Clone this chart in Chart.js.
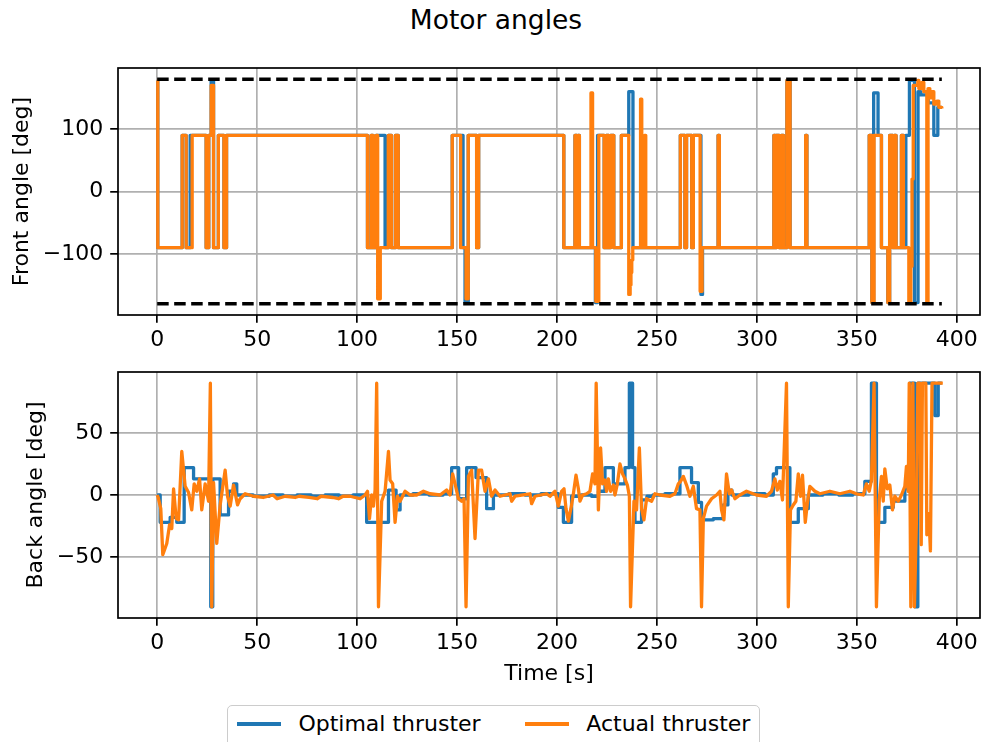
<!DOCTYPE html>
<html>
<head>
<meta charset="utf-8">
<title>Motor angles</title>
<script src="https://cdn.jsdelivr.net/npm/chart.js@4.4.1/dist/chart.umd.min.js"></script>
<style>
  body { margin: 0; background: #fff; font-family: 'DejaVu Sans', sans-serif; }
  #fig { position: relative; width: 982px; height: 742px; overflow: hidden; background: #fff; }
  #title { position: absolute; top: 5px; left: 0; width: 992px; text-align: center; font-size: 26.5px; line-height: 30px; color: #000; }
  canvas { position: absolute; left: 0; }
  #legend {
    position: absolute; left: 227px; top: 705px;
    display: inline-flex; align-items: center;
    padding: 7px 8.8px 20px 8.8px;
    border: 1.6px solid #cccccc; border-radius: 5px;
    font-size: 22px; line-height: 22px; color: #000; background: rgba(255,255,255,0.8);
  }
  #legend .item { display: inline-flex; align-items: center; }
  #legend .item + .item { margin-left: 44px; }
  #legend .swatch { width: 44px; height: 3.3px; margin-right: 17.6px; }
</style>
</head>
<body>
<div id="fig">
  <div id="title">Motor angles</div>
  <canvas id="front" width="982" height="350" style="top:0"></canvas>
  <canvas id="back" width="982" height="350" style="top:350px"></canvas>
  <div id="legend"></div>
</div>

<script>
// ---- data (time in s, angles in deg) ----

const timeTicks = [0, 50, 100, 150, 200, 250, 300, 350, 400];
const frontTicks = [-100, 0, 100];
const backTicks = [-50, 0, 50];

// angle limits drawn as dashed lines on the front plot
const limitTime = [0, 392.5];
const upperLimit = [180, 180];
const lowerLimit = [-180, -180];

// front motor: change points (value holds until the next time)
const frontOptimalTime = [
  0, 0.3, 12.5, 14.5, 16.5, 24.5, 25.8, 27.0, 28.2, 30.6,
  33.4, 34.7, 105.2, 107.0, 108.0, 109.5, 114.0, 115.6, 117.2, 119.2,
  120.6, 147.6, 153.0, 154.0, 155.6, 159.8, 160.8, 203.4, 209.0, 210.0,
  210.6, 211.2, 219.2, 220.3, 223.6, 224.7, 225.9, 226.8, 228.4, 232.2,
  235.9, 238.0, 261.7, 264.0, 264.8, 267.4, 268.2, 272.0, 272.8, 280.6,
  281.2, 308.5, 309.2, 309.7, 311.2, 312.3, 313.3, 315.0, 316.6, 324.4,
  325.0, 356.2, 357.5, 358.4, 360.6, 362.3, 365.5, 366.4, 368.0, 368.8,
  369.6, 372.3, 373.3, 374.5, 376.3, 378.8, 380.6, 382.0, 385.7, 388.5,
  390.5, 392.5
];
const frontOptimal = [
  178, -90, 90, -90, 90, -90, 90, 178, -90, 90,
  -90, 90, -90, 90, -90, 90, -90, 90, -90, 90,
  -90, 90, -90, -178, 90, -90, 90, -90, 90, -90,
  90, -90, -178, 90, -90, 90, -90, 90, -90, 90,
  160, -90, 90, -90, 90, -90, 90, -165, -90, 90,
  -90, 90, -90, 90, -90, 90, -90, 178, -90, 90,
  -90, 90, -178, 158, 90, -90, -178, 90, -90, 90,
  -90, 90, -90, 90, 178, -178, 160, 155, 142, 90,
  135, 135
];

const frontActualTime = [
  0, 0.3, 12.5, 14.5, 17.5, 24.5, 25.8, 27.0, 28.2, 30.6,
  33.4, 34.7, 105.2, 107.0, 108.0, 109.5, 110.3, 111.6, 115.6, 117.2,
  119.2, 120.6, 147.6, 151.8, 154.5, 155.6, 159.8, 160.8, 203.4, 209.0,
  210.0, 210.6, 211.2, 217.0, 217.8, 219.4, 220.9, 223.6, 224.7, 225.9,
  226.8, 228.4, 232.2, 235.9, 236.6, 237.0, 237.4, 237.9, 241.8, 242.4,
  243.8, 244.4, 261.7, 264.0, 264.8, 267.4, 268.2, 271.6, 272.6, 280.6,
  281.2, 308.5, 309.2, 309.7, 311.2, 312.3, 313.3, 315.0, 316.6, 324.4,
  325.0, 356.2, 357.5, 358.6, 362.3, 365.5, 366.4, 368.0, 368.8, 369.6,
  372.3, 373.3, 376.0, 377.0, 377.6, 378.2, 380.5, 381.0, 382.5, 383.5,
  385.0, 385.6, 386.5, 387.5, 388.5, 390.0, 391.0, 392.5
];
const frontActual = [
  178, -90, 90, -90, 90, -90, 90, 170, -90, 90,
  -90, 90, -90, 90, -90, 90, -172, -90, 90, -90,
  90, -90, 90, -90, -172, 90, -90, 90, -90, 90,
  -90, 90, -90, 158, -90, -176, 90, -90, 90, -90,
  90, -90, 90, -165, -150, -130, -110, -90, 148, -90,
  90, -90, 90, -90, 90, -90, 90, -160, -90, 90,
  -90, 90, -90, 90, -90, 90, -90, 178, -90, 90,
  -90, 90, -178, 90, -90, -178, 90, -90, 90, -90,
  90, -90, -178, -120, 20, 170, 178, 165, 175, 160,
  -178, 165, 150, 160, 140, 145, 135, 133
];

// back motor
const backOptimalTime = [
  0, 1.5, 6.5, 9.8, 13.5, 18.2, 26.8, 27.8, 31.5, 35.7,
  38.2, 39.8, 48, 56, 63, 70, 77, 84, 91, 98,
  104.8, 115.7, 119.5, 121.5, 128, 136, 143, 147.3, 150.8, 154.8,
  159.5, 164.8, 168.2, 176, 184, 192, 200.7, 203.2, 207.3, 212,
  217.3, 220.7, 224.0, 228.2, 234.0, 236.2, 237.8, 239.0, 242.3, 245,
  248, 254, 261.5, 267.3, 270.7, 272.3, 278.2, 283.2, 285.5, 287.5,
  296, 304, 308.2, 309.8, 316.5, 320.7, 325.7, 333, 341, 348,
  354.0, 357.3, 359.8, 364.0, 368.2, 374.0, 376.5, 379.0, 380.5, 389.0,
  390.7, 392.5
];
const backOptimal = [
  0, -22, -18, -22, 22, 13, -90, 13, -16, 3,
  9, 0, -1, 0, -1, 0, -1, 0, -1, 0,
  -22, 4, -12, 0, 1, 0, 1, 22, -3, 22,
  14, -11, 0, 1, 0, 1, -10, -22, -1, 0,
  -1, 3, 22, 9, 22, 90, 22, -22, -4, -1,
  0, 1, 22, 10, -6, -20, -19, -8, 4, 0,
  1, 0, 17, 22, -22, -11, 0, 1, 0, 1,
  11, 90, -22, -10, -5, 5, 90, -90, 90, 64,
  90, 90
];

const backActualTime = [
  0, 0.5, 1.8, 2.8, 4.8, 6.2, 7.3, 8.2, 9.5, 10.7,
  12.3, 14, 15.7, 17.3, 18.5, 19.8, 21.2, 22.3, 24, 25.7,
  26.6, 27.3, 28.2, 29.8, 31.5, 34, 35.2, 36.5, 38.2, 40.2,
  41.5, 44, 48.2, 53, 58, 60, 64, 69, 71, 76,
  80, 82, 88, 90.7, 93, 96.5, 101.5, 104, 105.2, 106.2,
  107.3, 108.2, 109, 109.8, 110.7, 112.3, 114, 115.7, 116.5, 117.8,
  119, 120.2, 121.5, 124, 126.5, 129.8, 133.2, 136.5, 141.5, 144.8,
  146.5, 147.8, 149, 150.7, 152.3, 153.5, 154.5, 155.7, 157.3, 159,
  160.7, 162.3, 164, 165.7, 167.3, 169, 171.5, 176.5, 177.3, 179,
  186.5, 187.3, 189, 194.8, 196.5, 199, 200.7, 202.3, 203.5, 204.5,
  205.7, 207.3, 208.2, 209.5, 210.7, 211.5, 212.8, 214.8, 216.5, 217.8,
  219, 219.6, 220.7, 221.8, 222.8, 224, 224.8, 225.7, 226.8, 228.2,
  229, 230.2, 231.5, 232.8, 234, 235.2, 236.2, 236.8, 238.5, 239.8,
  241.2, 242.3, 243.5, 244.8, 247.3, 249, 251.5, 256.5, 259, 260.7,
  261.8, 263.2, 264.8, 266.5, 268.2, 269.8, 271.5, 272.3, 273.2, 274.8,
  277.3, 279.8, 281.5, 282.3, 283.5, 284.8, 286.2, 287.3, 289, 291.5,
  294.8, 299.8, 304.8, 307.3, 309, 310.2, 311.5, 312.8, 314.8, 315.7,
  316.8, 318.2, 319.5, 320.7, 321.8, 322.8, 324.2, 325.2, 326.5, 329,
  331.5, 336.5, 341.5, 346.5, 349.8, 353.2, 354.8, 356.2, 357.3, 358.6,
  359.8, 361.2, 362.3, 363.2, 364, 365.2, 366.5, 367.8, 369, 370.7,
  372.3, 374, 374.8, 375.7, 376.2, 377, 378, 378.8, 379.8, 380.5,
  381.5, 382.2, 382.8, 384.5, 385, 386, 386.8, 387.6, 393
];
const backActual = [
  0, -2, -11, -48, -39, -24, -27, 5, -19, -20,
  35, 7, 2, -12, 9, 3, 13, -12, 9, -5,
  90, -90, 10, -39, -8, 20, -1, -9, 8, -8,
  -3, 1, -1, -2, 0, -3, -1, -2, -1, -2,
  -3, -1, -2, -3, -1, -1, -3, 0, 3, -19,
  0, -9, 4, 90, -90, -5, 3, 35, 12, 9,
  -22, -1, -5, 3, 0, 0, 3, 1, 0, 4,
  0, 17, 9, -3, -5, -3, -90, 15, 20, -35,
  20, 20, 3, 13, -1, 4, -1, 1, -5, -1,
  1, -7, -1, 1, -1, 3, -9, 3, 5, -11,
  -21, -8, 1, 16, 5, -5, 0, 1, 3, 17,
  9, 90, -12, 38, 9, 12, 3, 13, 3, 8,
  0, 9, 25, 17, 13, 8, -1, -90, -5, -12,
  38, -11, -20, -3, -5, 1, 0, -1, 1, 9,
  11, 15, 8, -1, 7, -11, -12, -90, -19, -9,
  -3, 0, 3, -12, -20, 17, 1, 4, -3, 0,
  3, 0, -1, 3, 13, 4, 11, -4, 90, -90,
  -12, -8, -5, 17, -1, 16, -22, -7, 7, 3,
  1, 3, 1, 3, 1, 0, 9, 3, 12, 90,
  -90, -4, 15, -5, 21, 5, 8, -12, -1, -5,
  0, 7, 23, 3, 90, -90, 90, -90, -20, 90,
  90, -40, 90, 90, -32, -15, -45, 90, 90
];

// ---- styling ----
const BLUE = '#1f77b4';
const ORANGE = '#ff7f0e';
const FONT = { family: 'DejaVu Sans', size: 22 };
const LINE_W = 3.3;

const points = (t, v) => t.map((x, i) => ({ x: x, y: v[i] }));
const minus = v => (v < 0 ? '\u2212' + Math.abs(v) : String(v));

// black box round the plot area, like matplotlib spines
const frame = {
  id: 'frame',
  afterDatasetsDraw(chart) {
    const { ctx, chartArea: a } = chart;
    ctx.save();
    ctx.strokeStyle = '#000';
    ctx.lineWidth = 1.7;
    ctx.strokeRect(a.left, a.top, a.right - a.left, a.bottom - a.top);
    ctx.restore();
  }
};

const gridOpts = { color: '#b0b0b0', lineWidth: 1.7, tickColor: '#000', tickWidth: 1.7, tickLength: 7.8 };

function makeChart(id, datasets, o) {
  return new Chart(document.getElementById(id), {
    type: 'line',
    data: { datasets: datasets },
    options: {
      responsive: false,
      animation: false,
      devicePixelRatio: 1,
      parsing: false,
      layout: { padding: { top: o.padTop, right: 2, left: 0, bottom: 0 } },
      plugins: { legend: { display: false }, tooltip: { enabled: false } },
      elements: { point: { radius: 0 }, line: { tension: 0, borderJoinStyle: 'round' } },
      scales: {
        x: {
          type: 'linear',
          min: -19.6, max: 411.6,
          afterBuildTicks: s => { s.ticks = timeTicks.map(v => ({ value: v })); },
          afterFit: s => { s.height = o.xHeight; },
          grid: gridOpts,
          border: { display: false },
          ticks: { font: FONT, color: '#000', padding: 4, maxRotation: 0, callback: v => minus(v) },
          title: o.xTitle
            ? { display: true, text: o.xTitle, font: FONT, color: '#000', padding: { top: 0, bottom: 12.8 } }
            : { display: false }
        },
        y: {
          type: 'linear',
          min: -o.yMax, max: o.yMax,
          afterBuildTicks: s => { s.ticks = o.yTicks.map(v => ({ value: v })); },
          afterFit: s => { s.width = 118; },
          grid: gridOpts,
          border: { display: false },
          ticks: { font: FONT, color: '#000', padding: 7, callback: v => minus(v) },
          title: { display: true, text: o.yTitle, font: FONT, color: '#000', padding: { top: o.yTitlePad, bottom: 0 } }
        }
      }
    },
    plugins: [frame]
  });
}

const seriesNames = ['Optimal thruster', 'Actual thruster'];

// datasets listed first are drawn on top
makeChart('front', [
  { data: points(limitTime, upperLimit), borderColor: '#000', borderWidth: LINE_W, borderDash: [11.5, 5.5] },
  { data: points(limitTime, lowerLimit), borderColor: '#000', borderWidth: LINE_W, borderDash: [11.5, 5.5] },
  { label: seriesNames[1], data: points(frontActualTime, frontActual), borderColor: ORANGE, borderWidth: LINE_W, stepped: true },
  { label: seriesNames[0], data: points(frontOptimalTime, frontOptimal), borderColor: BLUE, borderWidth: LINE_W, stepped: true }
], { padTop: 68, xHeight: 35, yMax: 198, yTicks: frontTicks, yTitle: 'Front angle [deg]', yTitlePad: 9.3 });

makeChart('back', [
  { label: seriesNames[1], data: points(backActualTime, backActual), borderColor: ORANGE, borderWidth: LINE_W },
  { label: seriesNames[0], data: points(backOptimalTime, backOptimal), borderColor: BLUE, borderWidth: LINE_W, stepped: true }
], { padTop: 22, xHeight: 82, yMax: 99, yTicks: backTicks, yTitle: 'Back angle [deg]', yTitlePad: 22.8, xTitle: 'Time [s]' });

// legend under both plots
const legend = document.getElementById('legend');
[[seriesNames[0], BLUE], [seriesNames[1], ORANGE]].forEach(([name, col]) => {
  const item = document.createElement('span');
  item.className = 'item';
  const sw = document.createElement('span');
  sw.className = 'swatch';
  sw.style.background = col;
  item.appendChild(sw);
  item.appendChild(document.createTextNode(name));
  legend.appendChild(item);
});
</script>
</body>
</html>
